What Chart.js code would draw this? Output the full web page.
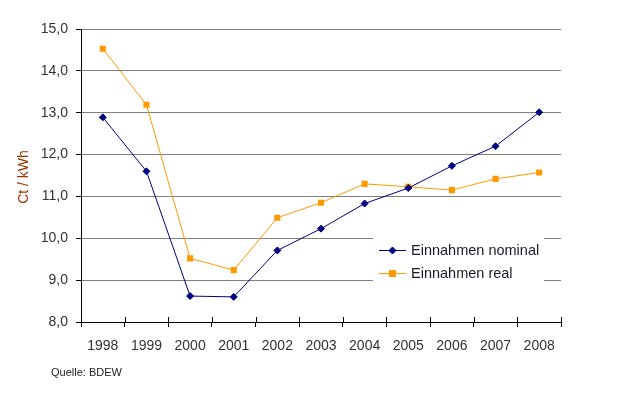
<!DOCTYPE html>
<html>
<head>
<meta charset="utf-8">
<script src="https://cdn.jsdelivr.net/npm/chart.js@4/dist/chart.umd.min.js"></script>
<style>
html,body{margin:0;padding:0;background:#fff;}
#wrap{width:641px;height:393px;position:relative;}
</style>
</head>
<body>
<div id="wrap"><canvas id="c" width="641" height="393"></canvas></div>
<script>
const years = ['1998','1999','2000','2001','2002','2003','2004','2005','2006','2007','2008'];
const nominal = [12.89, 11.60, 8.62, 8.60, 9.71, 10.23, 10.83, 11.20, 11.73, 12.20, 13.01];
const real = [14.53, 13.19, 9.52, 9.24, 10.49, 10.85, 11.30, 11.23, 11.15, 11.42, 11.57];
const seriesNames = ['Einnahmen nominal', 'Einnahmen real'];
const yTitle = 'Ct / kWh';
const sourceNote = 'Quelle: BDEW';

const FONT = "'Liberation Sans', Arial, sans-serif";

const extras = {
  id: 'extras',
  afterDraw(chart) {
    const ctx = chart.ctx;
    const xs = chart.scales.x;
    const area = chart.chartArea;
    ctx.save();
    // x-axis tick marks crossing above the axis
    ctx.strokeStyle = '#000';
    ctx.lineWidth = 1;
    const n = years.length;
    for (let i = 0; i <= n; i++) {
      const x = Math.round(xs.left + i * (xs.width / n)) + 0.5;
      ctx.beginPath();
      ctx.moveTo(x, Math.round(area.bottom) - 5);
      ctx.lineTo(x, Math.round(area.bottom));
      ctx.stroke();
    }
    // legend
    ctx.fillStyle = '#fff';
    ctx.fillRect(373, 236, 171, 52);
    const rows = [250.5, 273.5];
    chart.data.datasets.forEach((ds, i) => {
      const y = rows[i];
      ctx.strokeStyle = ds.borderColor;
      ctx.lineWidth = 1;
      ctx.beginPath();
      ctx.moveTo(379, y);
      ctx.lineTo(406, y);
      ctx.stroke();
      ctx.fillStyle = ds.backgroundColor;
      ctx.strokeStyle = ds.borderColor;
      Chart.helpers.drawPoint(ctx, {pointStyle: ds.pointStyle, radius: ds.pointRadius, borderWidth: 1}, 392.5, y);
      ctx.fillStyle = '#1a1a2a';
      ctx.font = '14.5px ' + FONT;
      ctx.textBaseline = 'middle';
      ctx.textAlign = 'left';
      ctx.fillText(ds.label, 411, y + 0.5);
    });
    // y title
    ctx.save();
    ctx.translate(24.5, 177);
    ctx.rotate(-Math.PI / 2);
    ctx.fillStyle = '#993300';
    ctx.font = '14px ' + FONT;
    ctx.textAlign = 'center';
    ctx.textBaseline = 'middle';
    ctx.fillText(yTitle, 0, 0);
    ctx.restore();
    // source
    ctx.fillStyle = '#222';
    ctx.font = '11px ' + FONT;
    ctx.textAlign = 'left';
    ctx.textBaseline = 'middle';
    ctx.fillText(sourceNote, 51, 373);
    ctx.restore();
  }
};

new Chart(document.getElementById('c'), {
  type: 'line',
  data: {
    labels: years,
    datasets: [
      {
        label: seriesNames[0],
        data: nominal,
        borderColor: '#000080',
        backgroundColor: '#000080',
        borderWidth: 1,
        pointStyle: 'rectRot',
        pointRadius: 3.5,
        pointBorderWidth: 1,
        tension: 0
      },
      {
        label: seriesNames[1],
        data: real,
        borderColor: '#FF9900',
        backgroundColor: '#FF9900',
        borderWidth: 1,
        pointStyle: 'rect',
        pointRadius: 4.3,
        pointBorderWidth: 0,
        tension: 0
      }
    ]
  },
  options: {
    responsive: false,
    animation: false,
    devicePixelRatio: 1,
    layout: { padding: { top: 29, right: 80, left: 0, bottom: 0 } },
    plugins: { legend: { display: false }, tooltip: { enabled: false } },
    scales: {
      x: {
        offset: true,
        grid: { offset: true, drawOnChartArea: false, drawTicks: true, tickLength: 5, tickColor: '#000' },
        border: { color: '#000', width: 1 },
        ticks: { color: '#333', font: { family: FONT, size: 14 }, padding: 11, maxRotation: 0, autoSkip: false },
        afterFit(s) { s.height = 71; }
      },
      y: {
        min: 8, max: 15,
        grid: { color: '#808080', tickColor: '#000', tickLength: 5 },
        border: { color: '#000', width: 1 },
        ticks: {
          stepSize: 1, color: '#333', font: { family: FONT, size: 14 }, padding: 8,
          callback: v => v.toFixed(1).replace('.', ',')
        },
        afterFit(s) { s.width = 81; }
      }
    }
  },
  plugins: [extras]
});
</script>
</body>
</html>
